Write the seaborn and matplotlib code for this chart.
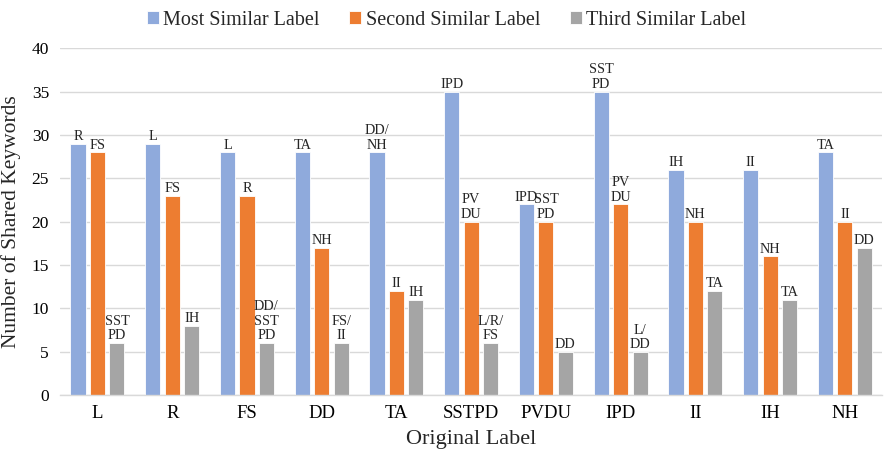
import matplotlib
matplotlib.use("Agg")
import matplotlib.pyplot as plt
import seaborn as sns
import pandas as pd

categories = ["L", "R", "FS", "DD", "TA", "SSTPD", "PVDU", "IPD", "II", "IH", "NH"]
series_names = ["Most Similar Label", "Second Similar Label", "Third Similar Label"]
most_similar = [29, 29, 28, 28, 28, 35, 22, 35, 26, 26, 28]
second_similar = [28, 23, 23, 17, 12, 20, 20, 22, 20, 16, 20]
third_similar = [6, 8, 6, 6, 11, 6, 5, 5, 12, 11, 17]
most_labels = ["R", "L", "L", "TA", "DD/\nNH", "IPD", "IPD", "SST\nPD", "IH", "II", "TA"]
second_labels = ["FS", "FS", "R", "NH", "II", "PV\nDU", "SST\nPD", "PV\nDU", "NH", "NH", "II"]
third_labels = ["SST\nPD", "IH", "DD/\nSST\nPD", "FS/\nII", "IH", "L/R/\nFS", "DD", "L/\nDD", "TA", "TA", "DD"]
colors = ["#8FAADC", "#ED7D31", "#A5A5A5"]

df = pd.DataFrame({
    "Original Label": categories * 3,
    "Series": [s for s in series_names for _ in categories],
    "Keywords": most_similar + second_similar + third_similar,
})

sns.set_theme(style="white")
plt.rcParams["font.family"] = ["Liberation Serif", "DejaVu Serif"]

fig = plt.figure(figsize=(8.84, 4.5), dpi=100)
ax = fig.add_axes([0.068, 0.122, 0.93, 0.771])

sns.barplot(data=df, x="Original Label", y="Keywords", hue="Series",
            order=categories, hue_order=series_names, palette=colors,
            width=0.78, gap=0.22, saturation=1, edgecolor="white",
            linewidth=0.6, ax=ax, errorbar=None)

ax.set_ylim(0, 40)
ax.set_yticks(range(0, 41, 5))
ax.set_xlim(-0.5, len(categories) - 0.5)
ax.yaxis.grid(True, color="#D9D9D9", linewidth=1)
ax.set_axisbelow(True)
for side in ["top", "right", "left"]:
    ax.spines[side].set_visible(False)
ax.spines["bottom"].set_color("#D9D9D9")
ax.spines["bottom"].set_linewidth(1)
ax.tick_params(axis="x", length=0, labelsize=13.5, colors="#000000", pad=7)
ax.tick_params(axis="y", length=0, labelsize=12.5, colors="#000000", pad=8)
ax.set_xlabel("Original Label", fontsize=16, labelpad=6)
ax.set_ylabel("Number of Shared Keywords", fontsize=15.5, labelpad=8)

for container, labels in zip(ax.containers, [most_labels, second_labels, third_labels]):
    for bar, text in zip(container, labels):
        ax.annotate(text, (bar.get_x() + bar.get_width() / 2, bar.get_height()),
                    xytext=(0, 0.5), textcoords="offset points",
                    ha="center", va="bottom", fontsize=10.3, linespacing=1.15)

ax.legend(loc="lower center", bbox_to_anchor=(0.47, 1.03), ncol=3, frameon=False,
          fontsize=14.5, handlelength=0.6, handleheight=0.6, handletextpad=0.2,
          columnspacing=1.5, borderaxespad=0)

fig.savefig("out.png", dpi=100)
